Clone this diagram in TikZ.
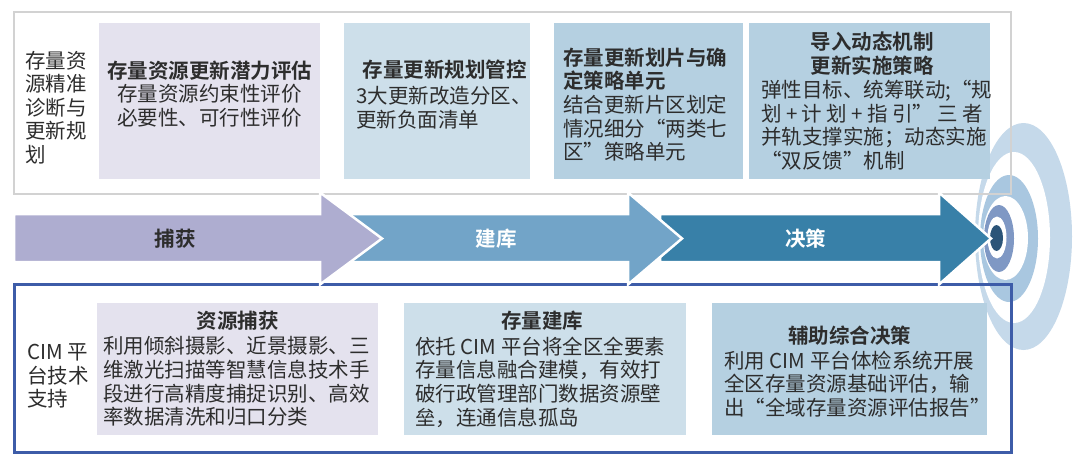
\documentclass[tikz,border=0pt]{standalone}
\usepackage{fontspec}
\setmainfont{Noto Sans CJK SC}[BoldFont={Noto Sans CJK SC Bold}]

\definecolor{lavlight}{HTML}{E4E2EE}
\definecolor{bluelight}{HTML}{CDDFEA}
\definecolor{bluemid}{HTML}{B5D0E1}
\definecolor{arrowlav}{HTML}{AEADD0}
\definecolor{arrowblue}{HTML}{72A4C8}
\definecolor{arrowdeep}{HTML}{3880A8}
\definecolor{framegray}{HTML}{D2D2D2}
\definecolor{frameblue}{HTML}{3D5CA8}
\definecolor{txtgray}{HTML}{2D2D2D}
\definecolor{ringa}{HTML}{C5D9EA}
\definecolor{ringb}{HTML}{A9C7E0}
\definecolor{ringc}{HTML}{7F98C4}
\definecolor{ringd}{HTML}{2B5478}

\tikzset{
  panel/.style={rectangle, inner sep=0pt, draw=none},
  txt/.style={inner sep=0pt, text=txtgray, font=\fontsize{20.5pt}{23.6pt}\selectfont},
  flow/.style={draw=white, line width=2.5pt, line join=miter},
}

\begin{document}
\begin{tikzpicture}[x=1pt, y=-1pt]

\fill[white] (0,0) rectangle (1080,466);
\useasboundingbox (0,0) rectangle (1080,466);

% target rings
\fill[ringa] (1023.5,236.5) ellipse [x radius=48.5, y radius=113.5];
\fill[white] (1014,237.5) ellipse [x radius=36, y radius=85.5];
\fill[ringb] (1009,238.5) ellipse [x radius=29, y radius=63.5];
\fill[white] (1005.5,238) ellipse [x radius=22.5, y radius=42];
\fill[ringc] (999,238.5) ellipse [x radius=15, y radius=33.5];
\fill[white] (997,237.5) ellipse [x radius=9.5, y radius=21];
\fill[ringd] (996.5,238) ellipse [x radius=6.5, y radius=13];

% frames
\draw[framegray, line width=2.3pt] (14,11.7) rectangle (1011,194);
\draw[frameblue, line width=3pt] (14,284) rectangle (1011,452);

% panels
\node[panel, fill=lavlight, minimum width=221pt, minimum height=156pt] (evalbox) at (209.5,101) {};
\node[panel, fill=bluelight, minimum width=186pt, minimum height=156pt] (planbox) at (437,101) {};
\node[panel, fill=bluemid, minimum width=189pt, minimum height=156pt] (unitbox) at (648.5,101) {};
\node[panel, fill=bluemid, minimum width=241pt, minimum height=156pt] (dynbox) at (869.5,101) {};
\node[panel, fill=lavlight, minimum width=281pt, minimum height=132pt] (capbox) at (237.5,369) {};
\node[panel, fill=bluelight, minimum width=282pt, minimum height=132pt] (basebox) at (545,369) {};
\node[panel, fill=bluemid, minimum width=275pt, minimum height=132pt] (decbox) at (849.5,369) {};

% flow arrows
\filldraw[flow, fill=arrowdeep] (660,214) -- (939,214) -- (939,192.5) -- (991,238.5) -- (939,284.5) -- (939,262) -- (660,262) -- cycle;
\filldraw[flow, fill=arrowblue] (340,214) -- (628,214) -- (628,192.5) -- (682,238.5) -- (628,284.5) -- (628,262) -- (340,262) -- cycle;
\filldraw[flow, fill=arrowlav] (14,214) -- (320,214) -- (320,192.5) -- (382,238.5) -- (320,284.5) -- (320,262) -- (14,262) -- cycle;

\node[txt, font=\fontsize{20.5pt}{23.6pt}\selectfont\bfseries] (capture) at (175,238.5) {捕获};
\node[txt, text=white, font=\fontsize{20.5pt}{23.6pt}\selectfont\bfseries] (build) at (496,238.5) {建库};
\node[txt, text=white, font=\fontsize{20.5pt}{23.6pt}\selectfont\bfseries] (decide) at (805.5,238.5) {决策};

% upper row
\node[txt, anchor=west, align=left] (toplabel) at (25,107.5) {存量资\\源精准\\诊断与\\更新规\\划};
\node[txt, align=center] (evaltext) at (209.5,94) {\textbf{存量资源更新潜力评估}\\存量资源约束性评价\\必要性、可行性评价};
\node[txt] (plantitle) at (444.5,70) {\textbf{存量更新规划管控}};
\node[txt, anchor=west, align=left] (plantext) at (356,107.5) {3大更新改造分区、\\更新负面清单};
\node[txt, anchor=west, align=left] (unittext) at (563,104.5) {\textbf{存量更新划片与确}\\\textbf{定策略单元}\\结合更新片区划定\\情况细分“两类七\\区”策略单元};
\node[txt, align=center] (dyntitle) at (872,53.5) {\textbf{导入动态机制}\\\textbf{更新实施策略}};
\node[txt, anchor=west, align=left] (dyntext) at (761,125) {弹性目标、统筹联动;“规\\\makebox[222pt][s]{划 + 计 划 + 指 引” 三 者}\\并轨支撑实施；动态实施\\“双反馈”机制};

% lower row
\node[txt, anchor=west, align=left] (botlabel) at (27,376) {CIM 平\\台技术\\支持};
\node[txt] (captitle) at (237.5,321) {\textbf{资源捕获}};
\node[txt, anchor=west, align=left] (captext) at (103,381.5) {利用倾斜摄影、近景摄影、三\\维激光扫描等智慧信息技术手\\段进行高精度捕捉识别、高效\\率数据清洗和归口分类};
\node[txt] (basetitle) at (542,321) {\textbf{存量建库}};
\node[txt, anchor=west, align=left] (basetext) at (415,382) {依托 CIM 平台将全区全要素\\存量信息融合建模，有效打\\破行政管理部门数据资源壁\\垒，连通信息孤岛};
\node[txt] (dectitle) at (849.5,335.5) {\textbf{辅助综合决策}};
\node[txt, anchor=west, align=left] (dectext) at (724,384) {利用 CIM 平台体检系统开展\\全区存量资源基础评估，输\\出“全域存量资源评估报告”};

\end{tikzpicture}
\end{document}
